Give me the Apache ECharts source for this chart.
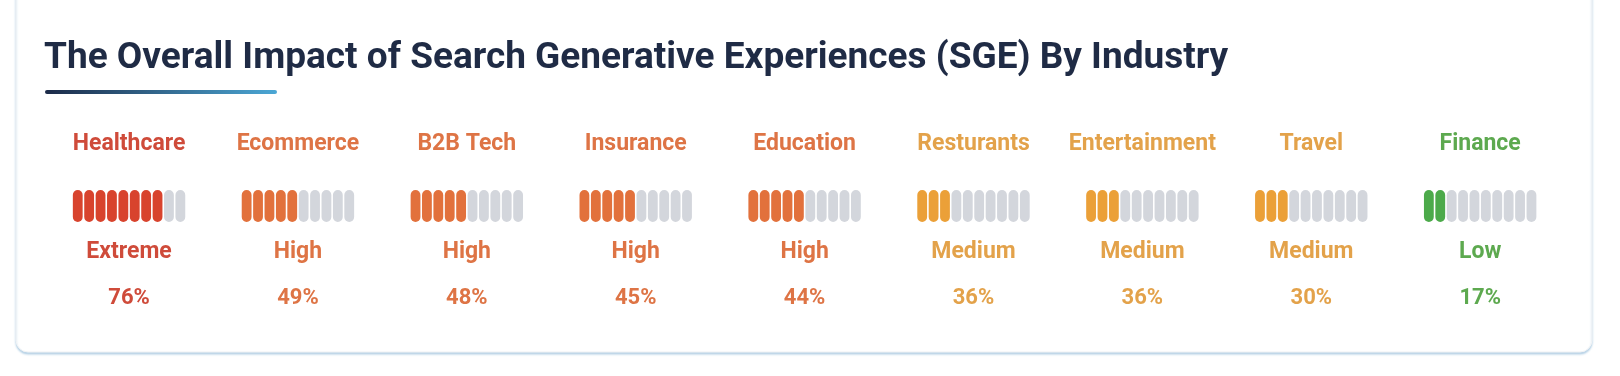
<!DOCTYPE html>
<html>
<head>
<meta charset="utf-8">
<script src="https://cdn.jsdelivr.net/npm/echarts@6/dist/echarts.min.js"></script>
<style>
  html, body { margin: 0; padding: 0; background: #fff; }
  #main { width: 1620px; height: 376px; }
</style>
</head>
<body>
<div id="main"></div>
<script>
// 行业数据
const industries = ['Healthcare', 'Ecommerce', 'B2B Tech', 'Insurance', 'Education', 'Resturants', 'Entertainment', 'Travel', 'Finance'];
const percents = [76, 49, 48, 45, 44, 36, 36, 30, 17];
const levels = ['Extreme', 'High', 'High', 'High', 'High', 'Medium', 'Medium', 'Medium', 'Low'];
const filled = [8, 5, 5, 5, 5, 3, 3, 3, 2]; // 点亮的格子数
const totalSegments = 10;

// 每个等级的颜色 [文字, 格子]
const levelColors = {
  Extreme: ['#cf4b3a', '#d8432d'],
  High: ['#de7445', '#e2713c'],
  Medium: ['#e3a24a', '#eba038'],
  Low: ['#5da94f', '#4caa4a']
};
const emptyColor = '#d3d6dc';

var myChart = echarts.init(document.getElementById('main'));

const font = 'Roboto, "Noto Sans", sans-serif';
const segPitch = 11.4, segW = 9.8, segH = 32;

myChart.setOption({
  animation: false,
  title: {
    text: 'The Overall Impact of Search Generative Experiences (SGE) By Industry',
    left: 39,
    top: 35,
    textStyle: { fontFamily: font, fontSize: 37, fontWeight: 'bold', color: '#1f2b45' }
  },
  graphic: [
    {
      type: 'rect', z: -10,
      shape: { x: 16, y: -20, width: 1576, height: 372, r: 12 },
      style: {
        fill: '#fff', stroke: '#f1f3f5', lineWidth: 1,
        shadowColor: 'rgba(110,165,205,0.45)', shadowBlur: 2, shadowOffsetY: 2
      }
    },
    {
      type: 'rect',
      shape: { x: 45, y: 90, width: 232, height: 4, r: 2 },
      style: {
        fill: new echarts.graphic.LinearGradient(0, 0, 1, 0, [
          { offset: 0, color: '#1c2a48' },
          { offset: 1, color: '#4ba7d5' }
        ])
      }
    }
  ],
  grid: { left: 44.6, right: 55.4, top: 120, bottom: 60 },
  xAxis: { type: 'value', min: -0.5, max: 8.5, show: false },
  yAxis: { type: 'value', min: 0, max: 1, show: false },
  series: [
    {
      type: 'custom',
      data: industries.map((name, i) => [i, percents[i], filled[i]]),
      renderItem: function (params, api) {
        const i = api.value(0);
        const pt = api.coord([i, 1]);
        const cx = pt[0], top = pt[1];
        const c = levelColors[levels[i]];
        const children = [];
        const textStyle = (txt, y, size) => ({
          type: 'text',
          style: {
            text: txt, x: cx, y: y, align: 'center', verticalAlign: 'middle',
            fontFamily: font, fontSize: size, fontWeight: 'bold', fill: c[0]
          }
        });
        children.push(textStyle(industries[i], top + 24, 23));
        for (let s = 0; s < totalSegments; s++) {
          const x = cx + (s - (totalSegments - 1) / 2) * segPitch - segW / 2;
          children.push({
            type: 'rect',
            shape: { x: x, y: top + 70, width: segW, height: segH, r: segW / 2 },
            style: { fill: s < api.value(2) ? c[1] : emptyColor }
          });
        }
        children.push(textStyle(levels[i], top + 132, 23));
        children.push(textStyle(api.value(1) + '%', top + 178.5, 22));
        return { type: 'group', children: children };
      }
    }
  ]
});
</script>
</body>
</html>
